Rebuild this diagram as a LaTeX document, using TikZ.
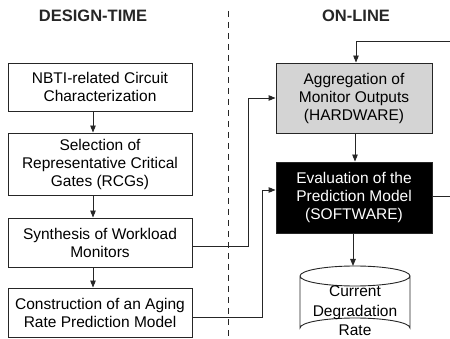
\documentclass[tikz,border=0pt]{standalone}
\usepackage{fontspec}
\setmainfont{Liberation Sans}
\usetikzlibrary{arrows.meta}
\begin{document}
\begin{tikzpicture}[x=1pt,y=-1pt,
  box/.style={draw=black!85,line width=0.9pt,align=center,font=\fontsize{15.5}{18}\selectfont,inner sep=0pt},
  title/.style={font=\bfseries\fontsize{16.5}{18}\selectfont,text=black!85},
  conn/.style={draw=black!85,line width=0.9pt,-{Triangle[length=7pt,width=5.5pt]}},
  plain/.style={draw=black!85,line width=0.9pt}]
\useasboundingbox (0,0) rectangle (450,339);
\node[title] (t1) at (93,16) {DESIGN-TIME};
\node[title] (t2) at (356,16) {ON-LINE};
\draw[black!85,line width=0.8pt,dash pattern=on 6pt off 5pt] (228,11) -- (228,339);
% left boxes
\node[box,minimum width=184pt,minimum height=48pt] (b1) at (100,87) {NBTI-related Circuit\\Characterization};
\node[box,minimum width=184pt,minimum height=62pt] (b2) at (100,164) {Selection of\\Representative Critical\\Gates (RCGs)};
\node[box,minimum width=184pt,minimum height=49pt] (b3) at (100,242.5) {Synthesis of Workload\\Monitors};
\node[box,minimum width=184pt,minimum height=49pt] (b4) at (100,312.5) {Construction of an Aging\\Rate Prediction Model};
\draw[conn] (b1.south -| 93,0) -- (b2.north -| 93,0);
\draw[conn] (b2.south -| 93,0) -- (b3.north -| 93,0);
\draw[conn] (b3.south -| 93,0) -- (b4.north -| 93,0);
% right boxes
\node[box,fill=black!17,minimum width=156pt,minimum height=70pt] (r1) at (354,98) {Aggregation of\\Monitor Outputs\\(HARDWARE)};
\node[box,fill=black,text=white,minimum width=156pt,minimum height=71pt] (r2) at (354,197.5) {Evaluation of the\\Prediction Model\\(SOFTWARE)};
\draw[conn] (r1.south -| 355,0) -- (r2.north -| 355,0);
% cylinder
\coordinate (cyl) at (355,276);
\draw[plain] (300,276) arc[start angle=180,end angle=-180,x radius=55,y radius=10]
  (300,276) -- (300,328) arc[start angle=180,end angle=360,x radius=55,y radius=10] -- (410,276);
\node[align=center,font=\fontsize{15.5}{19.5}\selectfont] (db) at (355,311) {Current\\Degradation\\Rate};
\draw[conn] (r2.south -| 353,0) -- (353,266);
% feedback
\coordinate (fb1) at (450,196);
\coordinate (fb2) at (450,41);
\draw[plain] (r2.east |- fb1) -- (fb1);
\draw[conn] (fb2) -- (356,41) -- (r1.north -| 356,0);
% connectors across
\draw[conn] (b3.east |- 0,246) -- (248,246) -- (248,98) -- (r1.west |- 0,98);
\draw[conn] (b4.east |- 0,317) -- (262,317) -- (262,190) -- (r2.west |- 0,190);
\end{tikzpicture}
\end{document}
